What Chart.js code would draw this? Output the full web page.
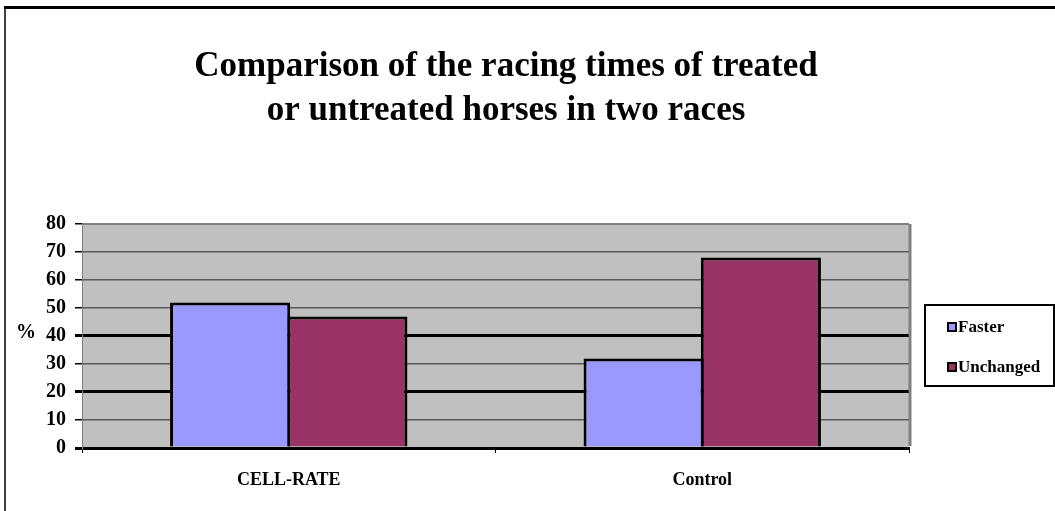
<!DOCTYPE html>
<html>
<head>
<meta charset="utf-8">
<script src="https://cdn.jsdelivr.net/npm/chart.js@4"></script>
<style>
  body { margin: 0; background: #fff; }
  #wrap { width: 1055px; height: 511px; }
</style>
</head>
<body>
<div id="wrap"><canvas id="horseChart" width="1055" height="511"></canvas></div>
<script>
// chart values
const categories = ['CELL-RATE', 'Control'];
const seriesNames = ['Faster', 'Unchanged'];
const fasterValues = [52, 32];
const unchangedValues = [47, 68];
const yMin = 0;
const yMax = 80;
const yStep = 10;
const titleLines = ['Comparison of the racing times of treated', 'or untreated horses in two races'];

const serif = '"Liberation Serif", "Times New Roman", serif';

// grey plot area, outer frame, "%" label, plot border and legend box
const decorations = {
    id: 'decorations',
    beforeDraw(chart) {
        const { ctx, chartArea: a } = chart;
        ctx.save();
        ctx.fillStyle = '#c0c0c0';
        ctx.fillRect(a.left, a.top, a.right - a.left, a.bottom - a.top);
        ctx.restore();
    },
    afterDraw(chart) {
        const { ctx, chartArea: a } = chart;
        ctx.save();
        // plot border (top / right), grey
        ctx.strokeStyle = '#808080';
        ctx.lineWidth = 2;
        ctx.beginPath();
        ctx.moveTo(a.left, a.top);
        ctx.lineTo(a.right, a.top);
        ctx.stroke();
        ctx.lineWidth = 3;
        ctx.beginPath();
        ctx.moveTo(a.right + 1, a.top);
        ctx.lineTo(a.right + 1, a.bottom - 2);
        ctx.stroke();

        // outer frame: top and left only
        ctx.strokeStyle = '#000';
        ctx.lineWidth = 3;
        ctx.beginPath();
        ctx.moveTo(4, 7.5);
        ctx.lineTo(1055, 7.5);
        ctx.stroke();
        ctx.lineWidth = 1.5;
        ctx.beginPath();
        ctx.moveTo(5, 6);
        ctx.lineTo(5, 511);
        ctx.stroke();

        // axis label "%"
        ctx.fillStyle = '#000';
        ctx.font = 'bold 20px ' + serif;
        ctx.textAlign = 'center';
        ctx.textBaseline = 'middle';
        ctx.fillText('%', 26, 333);

        // legend box
        ctx.lineWidth = 2;
        ctx.strokeRect(925, 305, 129, 81);
        ctx.font = 'bold 17px ' + serif;
        ctx.textAlign = 'left';
        const rows = [327, 367];
        chart.data.datasets.forEach((ds, i) => {
            const y = rows[i];
            ctx.fillStyle = '#000';
            ctx.fillRect(947, y - 5, 10, 10);
            ctx.fillStyle = ds.backgroundColor;
            ctx.fillRect(949, y - 3, 6, 6);
            ctx.fillStyle = '#000';
            ctx.fillText(ds.label, 958, y + 1);
        });
        ctx.restore();
    }
};

const ctx = document.getElementById('horseChart').getContext('2d');
new Chart(ctx, {
    type: 'bar',
    data: {
        labels: categories,
        datasets: [
            {
                label: seriesNames[0],
                data: fasterValues,
                backgroundColor: '#9999ff',
                borderColor: '#000',
                borderWidth: 3,
                borderSkipped: 'bottom'
            },
            {
                label: seriesNames[1],
                data: unchangedValues,
                backgroundColor: '#993366',
                borderColor: '#000',
                borderWidth: 3,
                borderSkipped: 'bottom'
            }
        ]
    },
    options: {
        responsive: false,
        animation: false,
        categoryPercentage: 0.567,
        barPercentage: 1.025, // bars overlap a little so neighbours share one border
        layout: {
            padding: { left: 0, right: 43, top: 0, bottom: 0 }
        },
        plugins: {
            legend: { display: false },
            tooltip: { enabled: false },
            title: {
                display: true,
                text: titleLines,
                color: '#000',
                font: { family: serif, size: 35, weight: 'bold', lineHeight: 1.257 },
                padding: { top: 45, bottom: 91 }
            }
        },
        scales: {
            x: {
                grid: {
                    offset: true,
                    drawOnChartArea: false,
                    drawTicks: true,
                    tickLength: 5,
                    tickColor: '#000',
                    tickWidth: 1
                },
                border: { color: '#000', width: 3 },
                ticks: {
                    color: '#000',
                    font: { family: serif, size: 18, weight: 'bold' },
                    padding: 17
                },
                afterFit(scale) { scale.height = 63; }
            },
            y: {
                min: yMin,
                max: yMax,
                grid: {
                    color: c => (c.tick && c.tick.value % 20 === 0 && c.tick.value <= 40) ? '#000' : '#5a5a5a',
                    lineWidth: c => (c.tick && c.tick.value % 20 === 0 && c.tick.value <= 40) ? 3 : 1.5,
                    tickColor: '#000',
                    tickLength: 7
                },
                border: { color: '#808080', width: 1 },
                ticks: {
                    stepSize: yStep,
                    color: '#000',
                    padding: 9,
                    font: { family: serif, size: 20, weight: 'bold' }
                },
                afterFit(scale) { scale.width = 82; }
            },
            // empty right-hand slot so the plot ends where the legend begins
            spacer: {
                type: 'linear',
                position: 'right',
                display: true,
                grid: { display: false },
                border: { display: false },
                ticks: { display: false },
                afterFit(scale) { scale.width = 103; }
            }
        }
    },
    plugins: [decorations]
});
</script>
</body>
</html>
